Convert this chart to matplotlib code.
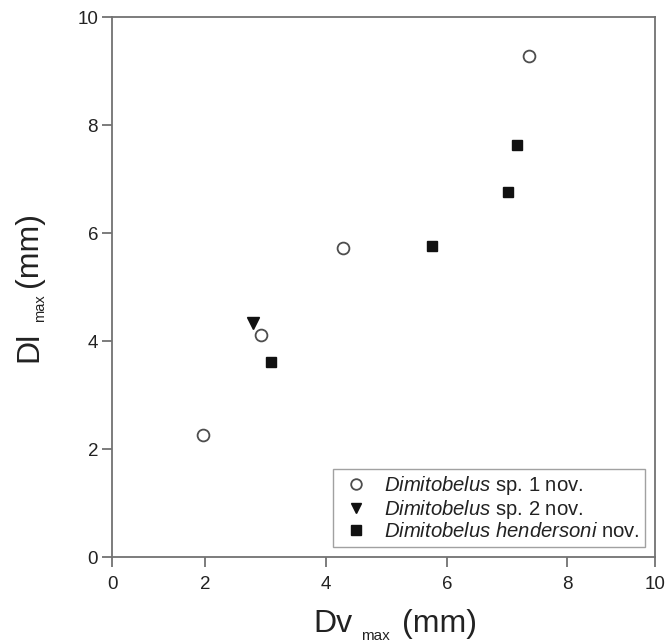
#%% ---------------------------------------------------------------------------------------
# ------------------------ Import modules -------------------------------------------------
# ----------------------------------------------------------------------------------------
import numpy as np
import matplotlib
matplotlib.use("Agg")
import matplotlib.pyplot as plt

plt.rcParams['font.family'] = ['Liberation Sans', 'DejaVu Sans']
plt.rcParams['mathtext.fontset'] = 'custom'
plt.rcParams['mathtext.rm'] = 'Liberation Sans'
plt.rcParams['mathtext.it'] = 'Liberation Sans:italic'


#%% ---------------------------------------------------------------------------------------
# ------------------------ Data (Dv max vs Dl max, mm) ------------------------------------
# ----------------------------------------------------------------------------------------
sp1_dv = [1.95, 2.93, 4.28, 7.36]
sp1_dl = [2.26, 4.11, 5.72, 9.28]

sp2_dv = [2.80]
sp2_dl = [4.33]

hend_dv = [3.09, 5.76, 7.01, 7.16]
hend_dl = [3.61, 5.76, 6.76, 7.63]

labels = [
    r"$\mathit{Dimitobelus}$ sp. 1 nov.",
    r"$\mathit{Dimitobelus}$ sp. 2 nov.",
    r"$\mathit{Dimitobelus\ hendersoni}$ nov.",
]

ticks = [0, 2, 4, 6, 8, 10]

# the printed x axis is not evenly spaced (ends are squeezed), so map it piecewise
x_axis_spacing = [0, 93, 214, 335, 455, 543]


def x_fwd(v):
    return np.interp(v, ticks, x_axis_spacing)


def x_inv(p):
    return np.interp(p, x_axis_spacing, ticks)


#%% ---------------------------------------------------------------------------------------
# ------------------------ Plot -----------------------------------------------------------
# ----------------------------------------------------------------------------------------
W, H = 669, 643
fig = plt.figure(figsize=(W / 100, H / 100), dpi=100)
ax = fig.add_axes([112 / W, 1 - 557 / H, (655 - 112) / W, (557 - 17) / H])
ax.set_xscale('function', functions=(x_fwd, x_inv))

ax.plot(sp1_dv, sp1_dl, linestyle='none', marker='o', ms=8.5, mfc='white',
        mec='#4d4d4d', mew=1.3, label=labels[0])
ax.plot(sp2_dv, sp2_dl, linestyle='none', marker='v', ms=8.5, color='#111111',
        label=labels[1])
ax.plot(hend_dv, hend_dl, linestyle='none', marker='s', ms=7.3, color='#111111',
        label=labels[2])

ax.set_xlim(0, 10)
ax.set_ylim(0, 10)
ax.set_xticks(ticks)
ax.set_yticks(ticks)
ax.set_xticklabels([str(t) for t in ticks])
ax.set_yticklabels([str(t) for t in ticks])
ax.minorticks_off()

spine_col = '#727272'
for s in ax.spines.values():
    s.set_color(spine_col)
    s.set_linewidth(1.3)
ax.tick_params(direction='out', length=7, width=1.3, color=spine_col,
               labelsize=13.5, labelcolor='#222222')
ax.tick_params(axis='x', pad=7)
ax.tick_params(axis='y', pad=3)

# Legend
leg = ax.legend(loc='lower right', bbox_to_anchor=(0.982, 0.0185), borderaxespad=0,
                fontsize=14.6, frameon=True, fancybox=False, edgecolor='#8a8a8a',
                handlelength=1.75, handletextpad=0.5, borderpad=0.28,
                labelspacing=0.05, markerscale=0.9)
leg.get_frame().set_linewidth(1.0)
for t in leg.get_texts():
    t.set_color('#222222')

# Axis titles with small spaced subscript
lab_col = '#222222'
fig.text(313 / W, 1 - 632 / H, "Dv", fontsize=23, ha='left', va='baseline', color=lab_col)
fig.text(361 / W, 1 - 640 / H, "max", fontsize=11, ha='left', va='baseline', color=lab_col)
fig.text(402 / W, 1 - 632 / H, "(mm)", fontsize=23, ha='left', va='baseline', color=lab_col)

fig.text(37 / W, 1 - 362 / H, "Dl", fontsize=23, rotation=90, rotation_mode='anchor',
         ha='left', va='baseline', color=lab_col)
fig.text(44 / W, 1 - 322 / H, "max", fontsize=10.5, rotation=90, rotation_mode='anchor',
         ha='left', va='baseline', color=lab_col)
fig.text(37 / W, 1 - 287 / H, "(mm)", fontsize=23, rotation=90, rotation_mode='anchor',
         ha='left', va='baseline', color=lab_col)

fig.savefig("out.png", dpi=100)
